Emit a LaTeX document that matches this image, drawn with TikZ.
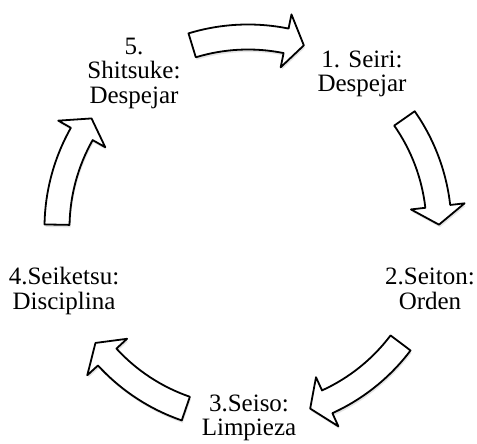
\documentclass[tikz,border=0pt]{standalone}
\usepackage{fontspec}
\setmainfont{Liberation Serif}
\usetikzlibrary{shadows}

\tikzset{
  lbl/.style={align=center, inner sep=0pt, font=\fontsize{25}{24.5}\selectfont},
  cycarrow/.style={draw=black, fill=white, line width=1.8pt, line join=round,
    drop shadow={shadow xshift=1pt, shadow yshift=-2.5pt, opacity=0.18, fill=black!60}}
}

\begin{document}
\begin{tikzpicture}[x=1pt,y=1pt]
\useasboundingbox (0,0) rectangle (477,444);
% steps of the cycle
\node[lbl] (n1) at (362,370) {1. Seiri:\\Despejar};
\node[lbl] (n2) at (430,155) {2.Seiton:\\Orden};
\node[lbl] (n3) at (249,26) {3.Seiso:\\Limpieza};
\node[lbl] (n4) at (64,153) {4.Seiketsu:\\Disciplina};
\node[lbl] (n5) at (134,371) {5.\\Shitsuke:\\Despejar};
% curved arrows between the steps
\begin{scope}[shift={(248,216)}]
\foreach \m in {90,18,-54,-126,162}
  \draw[cycarrow] (\m+17:203.5pt) arc[start angle=\m+17, end angle=\m-11.5, radius=203.5pt]
    -- (\m-11.5:218pt) -- (\m-17:191pt) -- (\m-11.5:164pt) -- (\m-11.5:178.5pt)
    arc[start angle=\m-11.5, end angle=\m+17, radius=178.5pt] -- cycle;
\end{scope}
\end{tikzpicture}
\end{document}
